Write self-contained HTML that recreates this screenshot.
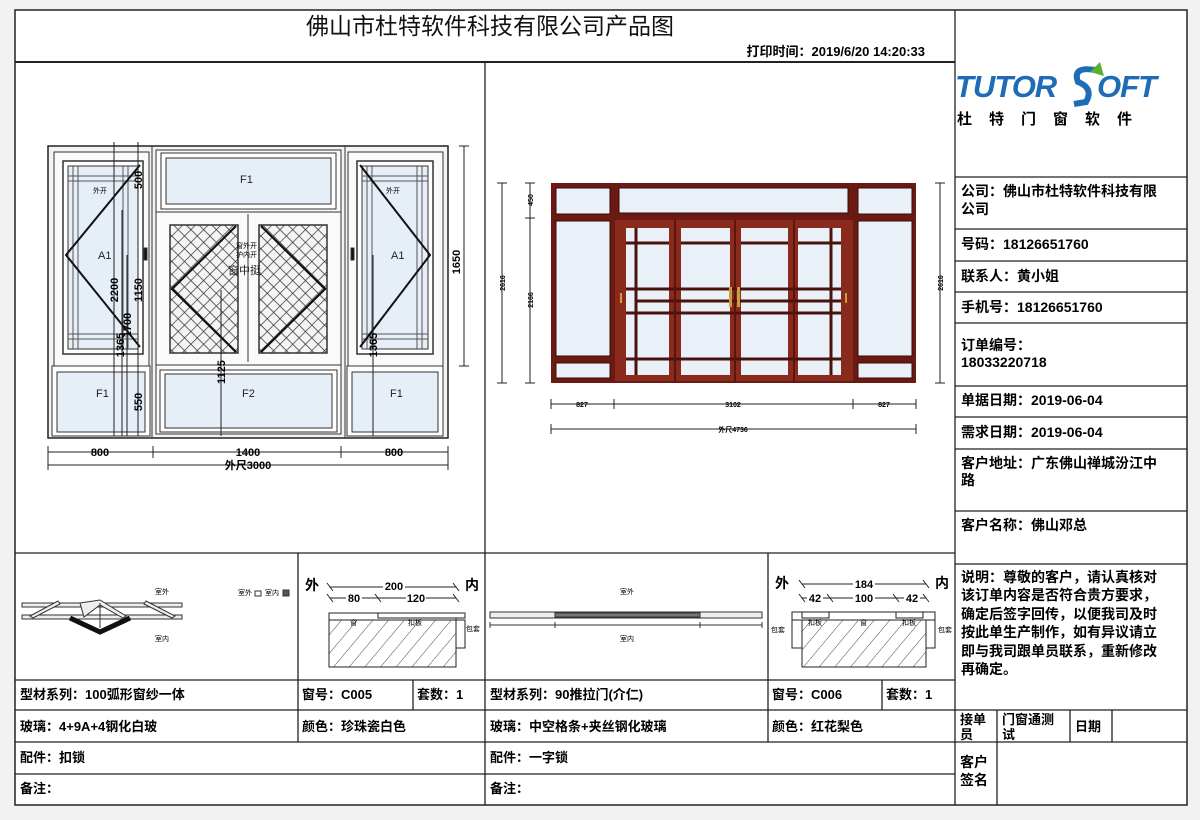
<!DOCTYPE html>
<html><head><meta charset="utf-8"><style>
html,body{margin:0;padding:0;background:#f2f2f2;}
svg{display:block;}
text{font-family:"Liberation Sans","Noto Sans CJK SC",sans-serif;}
.b{font-weight:bold;font-size:13px;fill:#000;}
.r{font-weight:bold;font-size:14px;fill:#000;}
.d{font-size:11px;fill:#000;font-weight:bold;}
.s{font-size:7px;fill:#000;}
</style></head><body>
<svg width="1200" height="820" viewBox="0 0 1200 820" xmlns="http://www.w3.org/2000/svg">
<defs>
<pattern id="mesh" width="9" height="9" patternUnits="userSpaceOnUse" patternTransform="rotate(45)">
<rect width="9" height="9" fill="#f4f4f4"/><path d="M0 0H9M0 0V9" stroke="#333" stroke-width="1.4"/>
</pattern>
<pattern id="hatch" width="12" height="12" patternUnits="userSpaceOnUse" patternTransform="rotate(40)">
<rect width="12" height="12" fill="#fff"/><path d="M0 0V12" stroke="#333" stroke-width="0.9"/>
</pattern>
</defs>
<rect x="15" y="10" width="1172" height="795" fill="#fff" stroke="#222" stroke-width="1.5"/>
<!-- main grid lines -->
<g stroke="#222" stroke-width="1.3" fill="none">
<line x1="955" y1="10" x2="955" y2="805"/>
<line x1="15" y1="62" x2="955" y2="62" stroke-width="2"/>
<line x1="485" y1="62" x2="485" y2="805"/>
<line x1="15" y1="553" x2="955" y2="553"/>
<line x1="15" y1="680" x2="955" y2="680"/>
<line x1="15" y1="710" x2="1187" y2="710"/>
<line x1="15" y1="742" x2="1187" y2="742"/>
<line x1="15" y1="774" x2="955" y2="774"/>
<line x1="298" y1="553" x2="298" y2="742"/>
<line x1="768" y1="553" x2="768" y2="742"/>
<line x1="413" y1="680" x2="413" y2="710"/>
<line x1="882" y1="680" x2="882" y2="710"/>
<line x1="955" y1="177" x2="1187" y2="177"/>
<line x1="955" y1="229" x2="1187" y2="229"/>
<line x1="955" y1="261" x2="1187" y2="261"/>
<line x1="955" y1="292" x2="1187" y2="292"/>
<line x1="955" y1="323" x2="1187" y2="323"/>
<line x1="955" y1="386" x2="1187" y2="386"/>
<line x1="955" y1="417" x2="1187" y2="417"/>
<line x1="955" y1="449" x2="1187" y2="449"/>
<line x1="955" y1="511" x2="1187" y2="511"/>
<line x1="955" y1="564" x2="1187" y2="564"/>
<line x1="997" y1="710" x2="997" y2="805"/>
<line x1="1070" y1="710" x2="1070" y2="742"/>
<line x1="1112" y1="710" x2="1112" y2="742"/>
</g>
<!-- title -->
<text x="490" y="34" text-anchor="middle" font-size="23" fill="#111">佛山市杜特软件科技有限公司产品图</text>
<text x="925" y="56" text-anchor="end" font-size="13" font-weight="bold">打印时间：2019/6/20 14:20:33</text>
<!-- logo -->
<text x="955" y="97" font-size="31" font-weight="bold" font-style="italic" fill="#1f6cb6" letter-spacing="-1">TUTOR</text>
<text x="1097" y="97" font-size="31" font-weight="bold" font-style="italic" fill="#1f6cb6" letter-spacing="-1">OFT</text>
<path d="M1095 70 Q1072 66 1078 82 Q1094 88 1086 102 L1074 104" stroke="#1f6cb6" stroke-width="6" fill="none"/>
<path d="M1090 72 L1100 62 L1104 76 Z" fill="#5bb030"/>
<text x="957" y="124" font-size="15" font-weight="bold" letter-spacing="17">杜特门窗软件</text>
<!-- right info -->
<text class="r" x="961" y="196">公司：佛山市杜特软件科技有限</text>
<text class="r" x="961" y="214">公司</text>
<text class="r" x="961" y="249">号码：18126651760</text>
<text class="r" x="961" y="281">联系人：黄小姐</text>
<text class="r" x="961" y="312">手机号：18126651760</text>
<text class="r" x="961" y="350">订单编号：</text>
<text class="r" x="961" y="367">18033220718</text>
<text class="r" x="961" y="405">单据日期：2019-06-04</text>
<text class="r" x="961" y="437">需求日期：2019-06-04</text>
<text class="r" x="961" y="468">客户地址：广东佛山禅城汾江中</text>
<text class="r" x="961" y="485">路</text>
<text class="r" x="961" y="530">客户名称：佛山邓总</text>
<g class="r">
<text class="r" x="961" y="582">说明：尊敬的客户，请认真核对</text>
<text class="r" x="961" y="600">该订单内容是否符合贵方要求，</text>
<text class="r" x="961" y="619">确定后签字回传，以便我司及时</text>
<text class="r" x="961" y="637">按此单生产制作，如有异议请立</text>
<text class="r" x="961" y="656">即与我司跟单员联系，重新修改</text>
<text class="r" x="961" y="674">再确定。</text>
</g>
<text class="b" x="960" y="724">接单</text><text class="b" x="960" y="739">员</text>
<text class="b" x="1002" y="724">门窗通测</text><text class="b" x="1002" y="739">试</text>
<text class="b" x="1075" y="731">日期</text>
<text class="r" x="960" y="767">客户</text><text class="r" x="960" y="785">签名</text>
<!-- bottom table text -->
<text class="b" x="20" y="699">型材系列：100弧形窗纱一体</text>
<text class="b" x="302" y="699">窗号：C005</text>
<text class="b" x="417" y="699">套数：1</text>
<text class="b" x="490" y="699">型材系列：90推拉门(介仁)</text>
<text class="b" x="772" y="699">窗号：C006</text>
<text class="b" x="886" y="699">套数：1</text>
<text class="b" x="20" y="731">玻璃：4+9A+4钢化白玻</text>
<text class="b" x="302" y="731">颜色：珍珠瓷白色</text>
<text class="b" x="490" y="731">玻璃：中空格条+夹丝钢化玻璃</text>
<text class="b" x="772" y="731">颜色：红花梨色</text>
<text class="b" x="20" y="762">配件：扣锁</text>
<text class="b" x="490" y="762">配件：一字锁</text>
<text class="b" x="20" y="793">备注：</text>
<text class="b" x="490" y="793">备注：</text>

<!-- LEFT WINDOW -->
<g stroke="#333" stroke-width="1">
<rect x="48" y="146" width="400" height="292" fill="#f3f3f3" stroke="#222" stroke-width="1.5"/>
<rect x="54" y="152" width="95" height="280" fill="#fafafa"/>
<rect x="156" y="150" width="185" height="284" fill="#fafafa"/>
<rect x="348" y="152" width="95" height="280" fill="#fafafa"/>
<line x1="152" y1="146" x2="152" y2="438"/><line x1="345" y1="146" x2="345" y2="438"/>
<!-- left sash -->
<rect x="63" y="161" width="80" height="193" fill="#fff" stroke-width="1.5"/>
<rect x="68" y="166" width="70" height="183" fill="#e6eef8"/>
<path d="M73 166V349M78 166V349M123 166V349M128 166V349M68 176H138M68 181H138M68 334H138M68 339H138" stroke="#555"/>
<path d="M140 165 L66 255 L140 347" fill="none" stroke="#111" stroke-width="2"/>
<rect x="52" y="366" width="98" height="70" fill="#fff"/>
<rect x="57" y="372" width="88" height="60" fill="#e6eef8"/>
<!-- right sash -->
<rect x="357" y="161" width="76" height="193" fill="#fff" stroke-width="1.5"/>
<rect x="362" y="166" width="66" height="183" fill="#e6eef8"/>
<path d="M367 166V349M372 166V349M417 166V349M422 166V349M362 176H428M362 181H428M362 334H428M362 339H428" stroke="#555"/>
<path d="M360 165 L430 255 L360 347" fill="none" stroke="#111" stroke-width="2"/>
<rect x="347" y="366" width="96" height="70" fill="#fff"/>
<rect x="352" y="372" width="86" height="60" fill="#e6eef8"/>
<rect x="144" y="248" width="3" height="12" fill="#111"/><rect x="351" y="248" width="3" height="12" fill="#111"/>
<!-- middle -->
<rect x="161" y="153" width="175" height="56" fill="#fff"/>
<rect x="166" y="158" width="165" height="46" fill="#e6eef8"/>
<line x1="156" y1="212" x2="341" y2="212"/>
<line x1="248" y1="214" x2="248" y2="362"/>
<rect x="170" y="225" width="68" height="128" fill="url(#mesh)" stroke-width="1.5"/>
<rect x="259" y="225" width="68" height="128" fill="url(#mesh)" stroke-width="1.5"/>
<path d="M236 226 L172 289 L236 352" fill="none" stroke="#111" stroke-width="2.2"/>
<path d="M261 226 L325 289 L261 352" fill="none" stroke="#111" stroke-width="2.2"/>
<line x1="156" y1="365" x2="341" y2="365"/>
<rect x="160" y="370" width="177" height="62" fill="#fff"/>
<rect x="165" y="374" width="167" height="54" fill="#e6eef8"/>
</g>
<g font-size="11" fill="#222">
<text x="240" y="183">F1</text><text x="98" y="259">A1</text><text x="391" y="259">A1</text>
<text x="96" y="397">F1</text><text x="242" y="397">F2</text><text x="390" y="397">F1</text>
<text x="228" y="274" font-size="11">窗中挺</text>
<text class="s" x="93" y="193">外开</text><text class="s" x="386" y="193">外开</text>
<text class="s" x="236" y="248">窗外开</text><text class="s" x="236" y="257">护内开</text>
</g>
<!-- left dims -->
<g stroke="#222" stroke-width="1" fill="none">
<line x1="464" y1="146" x2="464" y2="366"/><line x1="459" y1="146" x2="469" y2="146"/><line x1="459" y1="366" x2="469" y2="366"/>
<line x1="48" y1="452" x2="448" y2="452"/><line x1="48" y1="465" x2="448" y2="465"/>
<path d="M48 446V470M153 446V458M341 446V458M448 446V470"/>
<line x1="114" y1="142" x2="114" y2="436"/><line x1="122" y1="210" x2="122" y2="436"/>
<line x1="127" y1="255" x2="127" y2="436"/><line x1="138" y1="142" x2="138" y2="436"/>
<line x1="221" y1="290" x2="221" y2="436"/><line x1="373" y1="255" x2="373" y2="436"/>
</g>
<g class="d">
<text x="0" y="0" transform="translate(460,262) rotate(-90)" text-anchor="middle">1650</text>
<text x="100" y="456" text-anchor="middle" fill="#000">800</text>
<text x="248" y="456" text-anchor="middle">1400</text>
<text x="394" y="456" text-anchor="middle">800</text>
<text x="248" y="469" text-anchor="middle">外尺3000</text>
<text transform="translate(118,290) rotate(-90)" text-anchor="middle">2200</text>
<text transform="translate(142,180) rotate(-90)" text-anchor="middle">500</text>
<text transform="translate(142,290) rotate(-90)" text-anchor="middle">1150</text>
<text transform="translate(131,325) rotate(-90)" text-anchor="middle">1700</text>
<text transform="translate(124,345) rotate(-90)" text-anchor="middle">1365</text>
<text transform="translate(142,402) rotate(-90)" text-anchor="middle">550</text>
<text transform="translate(225,372) rotate(-90)" text-anchor="middle">1125</text>
<text transform="translate(377,345) rotate(-90)" text-anchor="middle">1365</text>
</g>

<!-- RIGHT DOOR -->
<g>
<rect x="551" y="183" width="365" height="200" fill="#6a1a12"/>
<g fill="#e9f0f8" stroke="#3a0c08" stroke-width="1">
<rect x="556" y="188" width="54" height="26"/><rect x="556" y="221" width="54" height="135"/><rect x="556" y="363" width="54" height="15"/>
<rect x="858" y="188" width="54" height="26"/><rect x="858" y="221" width="54" height="135"/><rect x="858" y="363" width="54" height="15"/>
<rect x="619" y="188" width="229" height="25"/>
</g>
<rect x="615" y="220" width="238" height="161" fill="#8a2a1c"/>
<g fill="#e9f0f8">
<rect x="626" y="228" width="43" height="147"/><rect x="681" y="228" width="49" height="147"/>
<rect x="741" y="228" width="47" height="147"/><rect x="798" y="228" width="43" height="147"/>
</g>
<g stroke="#4a120c" stroke-width="3">
<path d="M626 243H669M681 243H730M741 243H788M798 243H841"/>
<path d="M626 289H841"/><path d="M636 301H841" /><path d="M626 313H841"/>
<path d="M626 359H841"/>
<path d="M636 228V375M831 228V375"/>
</g>
<g stroke="#5a160e" stroke-width="2"><path d="M675 220V381M735 220V381M794 220V381"/></g>
<rect x="729" y="287" width="3" height="20" fill="#c8a040"/><rect x="737" y="287" width="3" height="20" fill="#c8a040"/>
<rect x="620" y="293" width="2" height="10" fill="#c8a040"/><rect x="845" y="293" width="2" height="10" fill="#c8a040"/>
</g>
<g stroke="#222" stroke-width="1" fill="none">
<line x1="502" y1="183" x2="502" y2="383"/><line x1="530" y1="183" x2="530" y2="383"/>
<path d="M497 183H507M497 383H507M525 183H535M525 218H535M525 383H535"/>
<line x1="940" y1="183" x2="940" y2="383"/><path d="M935 183H945M935 383H945"/>
<line x1="551" y1="404" x2="916" y2="404"/><line x1="551" y1="429" x2="916" y2="429"/>
<path d="M551 399V409M614 399V409M853 399V409M916 399V409M551 424V434M916 424V434"/>
</g>
<g font-size="7" font-weight="bold">
<text x="582" y="407" text-anchor="middle">827</text><text x="733" y="407" text-anchor="middle">3102</text>
<text x="884" y="407" text-anchor="middle">827</text><text x="733" y="432" text-anchor="middle">外尺4736</text>
<text transform="translate(505,283) rotate(-90)" text-anchor="middle">2616</text>
<text transform="translate(533,300) rotate(-90)" text-anchor="middle">2166</text>
<text transform="translate(533,200) rotate(-90)" text-anchor="middle">450</text>
<text transform="translate(943,283) rotate(-90)" text-anchor="middle">2616</text>
</g>

<!-- detail row -->
<g stroke="#333" stroke-width="1" fill="#eee">
<rect x="22" y="603" width="160" height="4"/>
<rect x="22" y="615" width="160" height="4"/>
<path d="M30 616 L58 601 L60 604 L33 618Z M80 603 L100 600 L126 616 L123 618 L100 605 L84 617Z M146 601 L175 616 L172 618 L144 604Z"/>
<path d="M70 618 L100 632 L130 618" fill="none" stroke="#111" stroke-width="5"/>
<line x1="100" y1="603" x2="100" y2="628"/>
<rect x="255" y="591" width="6" height="5" fill="#fff"/><rect x="283" y="590" width="6" height="6" fill="#555"/>
</g>
<text class="s" x="155" y="594">室外</text><text class="s" x="155" y="641">室内</text>
<text class="s" x="238" y="595">室外</text><text class="s" x="265" y="595">室内</text>
<!-- section 1 -->
<g stroke="#222" stroke-width="1" fill="none">
<line x1="330" y1="587" x2="456" y2="587"/><line x1="330" y1="598" x2="456" y2="598"/>
<path d="M327 583L333 591M375 594L381 602M453 583L459 591M327 594L333 602M453 594L459 602"/>
<rect x="329" y="620" width="127" height="47" fill="url(#hatch)"/>
<rect x="329" y="613" width="127" height="7" fill="#fff"/>
<rect x="378" y="613" width="87" height="5" fill="#fff"/>
<rect x="456" y="620" width="9" height="28" fill="#fff"/>
</g>
<text x="305" y="590" font-size="14" font-weight="bold">外</text><text x="465" y="590" font-size="14" font-weight="bold">内</text>
<rect x="383" y="581" width="22" height="10" fill="#fff"/><text class="d" x="394" y="590" text-anchor="middle">200</text>
<rect x="346" y="593" width="16" height="10" fill="#fff"/><text class="d" x="354" y="602" text-anchor="middle">80</text>
<rect x="406" y="593" width="20" height="10" fill="#fff"/><text class="d" x="416" y="602" text-anchor="middle">120</text>
<text class="s" x="350" y="625">窗</text><text class="s" x="408" y="625">扣板</text><text class="s" x="466" y="631">包套</text>
<!-- middle detail -->
<g stroke="#333" stroke-width="1">
<rect x="490" y="612" width="272" height="6" fill="#eee"/>
<rect x="555" y="613" width="145" height="4" fill="#777"/>
<line x1="490" y1="625" x2="762" y2="625"/>
<path d="M490 622V628M555 622V628M700 622V628M762 622V628"/>
</g>
<text class="s" x="620" y="594">室外</text><text class="s" x="620" y="641">室内</text>
<!-- section 2 -->
<g stroke="#222" stroke-width="1" fill="none">
<line x1="802" y1="584" x2="926" y2="584"/><line x1="802" y1="598" x2="926" y2="598"/>
<path d="M799 580L805 588M923 580L929 588M799 594L805 602M827 594L833 602M893 594L899 602M923 594L929 602"/>
<rect x="802" y="620" width="124" height="47" fill="url(#hatch)"/>
<rect x="792" y="612" width="143" height="8" fill="#fff"/>
<rect x="792" y="620" width="10" height="28" fill="#fff"/><rect x="926" y="620" width="9" height="28" fill="#fff"/>
<rect x="802" y="612" width="27" height="6" fill="#fff"/><rect x="896" y="612" width="27" height="6" fill="#fff"/>
</g>
<text x="775" y="588" font-size="14" font-weight="bold">外</text><text x="935" y="588" font-size="14" font-weight="bold">内</text>
<rect x="853" y="578" width="22" height="10" fill="#fff"/><text class="d" x="864" y="588" text-anchor="middle">184</text>
<rect x="807" y="593" width="16" height="10" fill="#fff"/><text class="d" x="815" y="602" text-anchor="middle">42</text>
<rect x="853" y="593" width="22" height="10" fill="#fff"/><text class="d" x="864" y="602" text-anchor="middle">100</text>
<rect x="904" y="593" width="16" height="10" fill="#fff"/><text class="d" x="912" y="602" text-anchor="middle">42</text>
<text class="s" x="771" y="632">包套</text><text class="s" x="938" y="632">包套</text>
<text class="s" x="808" y="625">扣板</text><text class="s" x="860" y="625">窗</text><text class="s" x="902" y="625">扣板</text>
</svg>
</body></html>
